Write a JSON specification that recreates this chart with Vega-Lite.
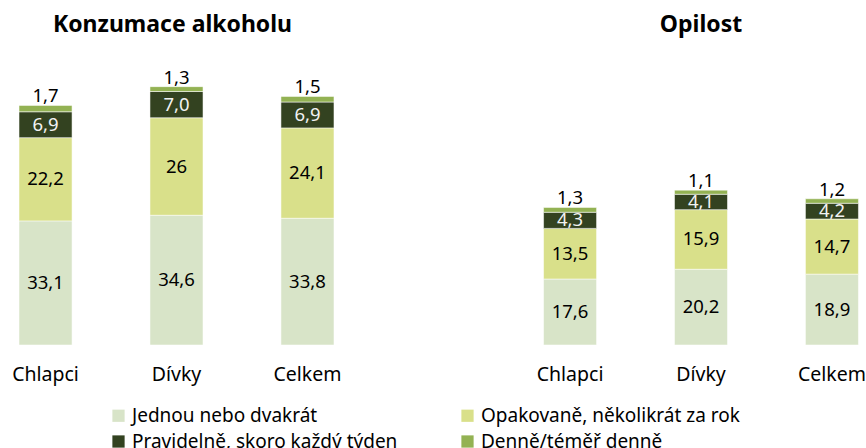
{
  "$schema": "https://vega.github.io/schema/vega-lite/v6.json",
  "padding": {"left": 5, "top": 14, "right": 0, "bottom": 0},
  "background": "white",
  "config": {
    "view": {"stroke": null},
    "font": "Noto Sans",
    "concat": {"spacing": 188},
    "title": {"font": "Noto Sans", "fontSize": 23, "fontWeight": "bold", "color": "#000000", "offset": 8}
  },
  "data": {"values": [
    {"panel": "Konzumace alkoholu", "group": "Chlapci", "cat": "Jednou nebo dvakrát", "ord": 1, "value": 33.1, "label": "33,1"},
    {"panel": "Konzumace alkoholu", "group": "Chlapci", "cat": "Opakovaně, několikrát za rok", "ord": 2, "value": 22.2, "label": "22,2"},
    {"panel": "Konzumace alkoholu", "group": "Chlapci", "cat": "Pravidelně, skoro každý týden", "ord": 3, "value": 6.9, "label": "6,9"},
    {"panel": "Konzumace alkoholu", "group": "Chlapci", "cat": "Denně/téměř denně", "ord": 4, "value": 1.7, "label": "1,7"},
    {"panel": "Konzumace alkoholu", "group": "Dívky", "cat": "Jednou nebo dvakrát", "ord": 1, "value": 34.6, "label": "34,6"},
    {"panel": "Konzumace alkoholu", "group": "Dívky", "cat": "Opakovaně, několikrát za rok", "ord": 2, "value": 26.0, "label": "26"},
    {"panel": "Konzumace alkoholu", "group": "Dívky", "cat": "Pravidelně, skoro každý týden", "ord": 3, "value": 7.0, "label": "7,0"},
    {"panel": "Konzumace alkoholu", "group": "Dívky", "cat": "Denně/téměř denně", "ord": 4, "value": 1.3, "label": "1,3"},
    {"panel": "Konzumace alkoholu", "group": "Celkem", "cat": "Jednou nebo dvakrát", "ord": 1, "value": 33.8, "label": "33,8"},
    {"panel": "Konzumace alkoholu", "group": "Celkem", "cat": "Opakovaně, několikrát za rok", "ord": 2, "value": 24.1, "label": "24,1"},
    {"panel": "Konzumace alkoholu", "group": "Celkem", "cat": "Pravidelně, skoro každý týden", "ord": 3, "value": 6.9, "label": "6,9"},
    {"panel": "Konzumace alkoholu", "group": "Celkem", "cat": "Denně/téměř denně", "ord": 4, "value": 1.5, "label": "1,5"},
    {"panel": "Opilost", "group": "Chlapci", "cat": "Jednou nebo dvakrát", "ord": 1, "value": 17.6, "label": "17,6"},
    {"panel": "Opilost", "group": "Chlapci", "cat": "Opakovaně, několikrát za rok", "ord": 2, "value": 13.5, "label": "13,5"},
    {"panel": "Opilost", "group": "Chlapci", "cat": "Pravidelně, skoro každý týden", "ord": 3, "value": 4.3, "label": "4,3"},
    {"panel": "Opilost", "group": "Chlapci", "cat": "Denně/téměř denně", "ord": 4, "value": 1.3, "label": "1,3"},
    {"panel": "Opilost", "group": "Dívky", "cat": "Jednou nebo dvakrát", "ord": 1, "value": 20.2, "label": "20,2"},
    {"panel": "Opilost", "group": "Dívky", "cat": "Opakovaně, několikrát za rok", "ord": 2, "value": 15.9, "label": "15,9"},
    {"panel": "Opilost", "group": "Dívky", "cat": "Pravidelně, skoro každý týden", "ord": 3, "value": 4.1, "label": "4,1"},
    {"panel": "Opilost", "group": "Dívky", "cat": "Denně/téměř denně", "ord": 4, "value": 1.1, "label": "1,1"},
    {"panel": "Opilost", "group": "Celkem", "cat": "Jednou nebo dvakrát", "ord": 1, "value": 18.9, "label": "18,9"},
    {"panel": "Opilost", "group": "Celkem", "cat": "Opakovaně, několikrát za rok", "ord": 2, "value": 14.7, "label": "14,7"},
    {"panel": "Opilost", "group": "Celkem", "cat": "Pravidelně, skoro každý týden", "ord": 3, "value": 4.2, "label": "4,2"},
    {"panel": "Opilost", "group": "Celkem", "cat": "Denně/téměř denně", "ord": 4, "value": 1.2, "label": "1,2"}
  ]},
  "hconcat": [
    {
      "title": {"text": "Konzumace alkoholu", "dx": -4},
      "width": 343,
      "height": 300,
      "transform": [
        {"filter": "datum.panel === 'Konzumace alkoholu'"},
        {"stack": "value", "groupby": ["group"], "sort": [{"field": "ord", "order": "ascending"}], "as": ["y0", "y1"]},
        {"calculate": "(datum.y0 + datum.y1) / 2", "as": "ymid"}
      ],
      "encoding": {
        "x": {"field": "group", "type": "nominal", "sort": ["Chlapci", "Dívky", "Celkem"],
              "scale": {"paddingInner": 0.595, "paddingOuter": 0.107},
              "axis": {"title": null, "domain": false, "ticks": false, "labelAngle": 0, "labelFontSize": 19.5, "labelColor": "#000000", "labelPadding": 20, "labelFont": "Noto Sans"}}
      },
      "layer": [
        {
          "mark": {"type": "bar", "stroke": "white", "strokeWidth": 0.75, "strokeOpacity": 0.7},
          "encoding": {
            "y": {"field": "y1", "type": "quantitative", "scale": {"domain": [0, 80]}, "axis": null},
            "y2": {"field": "y0"},
            "color": {"field": "cat", "type": "nominal",
              "scale": {"domain": ["Jednou nebo dvakrát", "Opakovaně, několikrát za rok", "Pravidelně, skoro každý týden", "Denně/téměř denně"],
                        "range": ["#d8e4c8", "#d9e08a", "#334220", "#93b253"]},
              "legend": {"title": null, "orient": "none", "legendX": 104, "legendY": 361, "direction": "horizontal", "columns": 2, "columnPadding": 60, "rowPadding": 6, "symbolType": "square", "symbolSize": 150, "symbolStrokeWidth": 0, "labelFontSize": 19, "labelFont": "Noto Sans", "labelColor": "#000000", "labelLimit": 400, "symbolOffset": 0}}
          }
        },
        {
          "transform": [{"filter": "datum.ord < 4"}],
          "mark": {"type": "text", "fontSize": 18.5, "baseline": "middle"},
          "encoding": {
            "y": {"field": "ymid", "type": "quantitative"},
            "text": {"field": "label"},
            "color": {"condition": {"test": "datum.ord === 3", "value": "#f2f2f2"}, "value": "#000000"}
          }
        },
        {
          "transform": [{"filter": "datum.ord === 4"}],
          "mark": {"type": "text", "fontSize": 18.5, "baseline": "bottom", "dy": 1},
          "encoding": {
            "y": {"field": "y1", "type": "quantitative"},
            "text": {"field": "label"},
            "color": {"value": "#000000"}
          }
        }
      ]
    },
    {
      "title": {"text": "Opilost"},
      "width": 328,
      "height": 300,
      "transform": [
        {"filter": "datum.panel === 'Opilost'"},
        {"stack": "value", "groupby": ["group"], "sort": [{"field": "ord", "order": "ascending"}], "as": ["y0", "y1"]},
        {"calculate": "(datum.y0 + datum.y1) / 2", "as": "ymid"}
      ],
      "encoding": {
        "x": {"field": "group", "type": "nominal", "sort": ["Chlapci", "Dívky", "Celkem"],
              "scale": {"paddingInner": 0.595, "paddingOuter": 0.05},
              "axis": {"title": null, "domain": false, "ticks": false, "labelAngle": 0, "labelFontSize": 19.5, "labelColor": "#000000", "labelPadding": 20, "labelFont": "Noto Sans"}}
      },
      "layer": [
        {
          "mark": {"type": "bar", "stroke": "white", "strokeWidth": 0.75, "strokeOpacity": 0.7},
          "encoding": {
            "y": {"field": "y1", "type": "quantitative", "scale": {"domain": [0, 80]}, "axis": null},
            "y2": {"field": "y0"},
            "color": {"field": "cat", "type": "nominal"}
          }
        },
        {
          "transform": [{"filter": "datum.ord < 4"}],
          "mark": {"type": "text", "fontSize": 18.5, "baseline": "middle"},
          "encoding": {
            "y": {"field": "ymid", "type": "quantitative"},
            "text": {"field": "label"},
            "color": {"condition": {"test": "datum.ord === 3", "value": "#f2f2f2"}, "value": "#000000"}
          }
        },
        {
          "transform": [{"filter": "datum.ord === 4"}],
          "mark": {"type": "text", "fontSize": 18.5, "baseline": "bottom", "dy": 1},
          "encoding": {
            "y": {"field": "y1", "type": "quantitative"},
            "text": {"field": "label"},
            "color": {"value": "#000000"}
          }
        }
      ]
    }
  ]
}
